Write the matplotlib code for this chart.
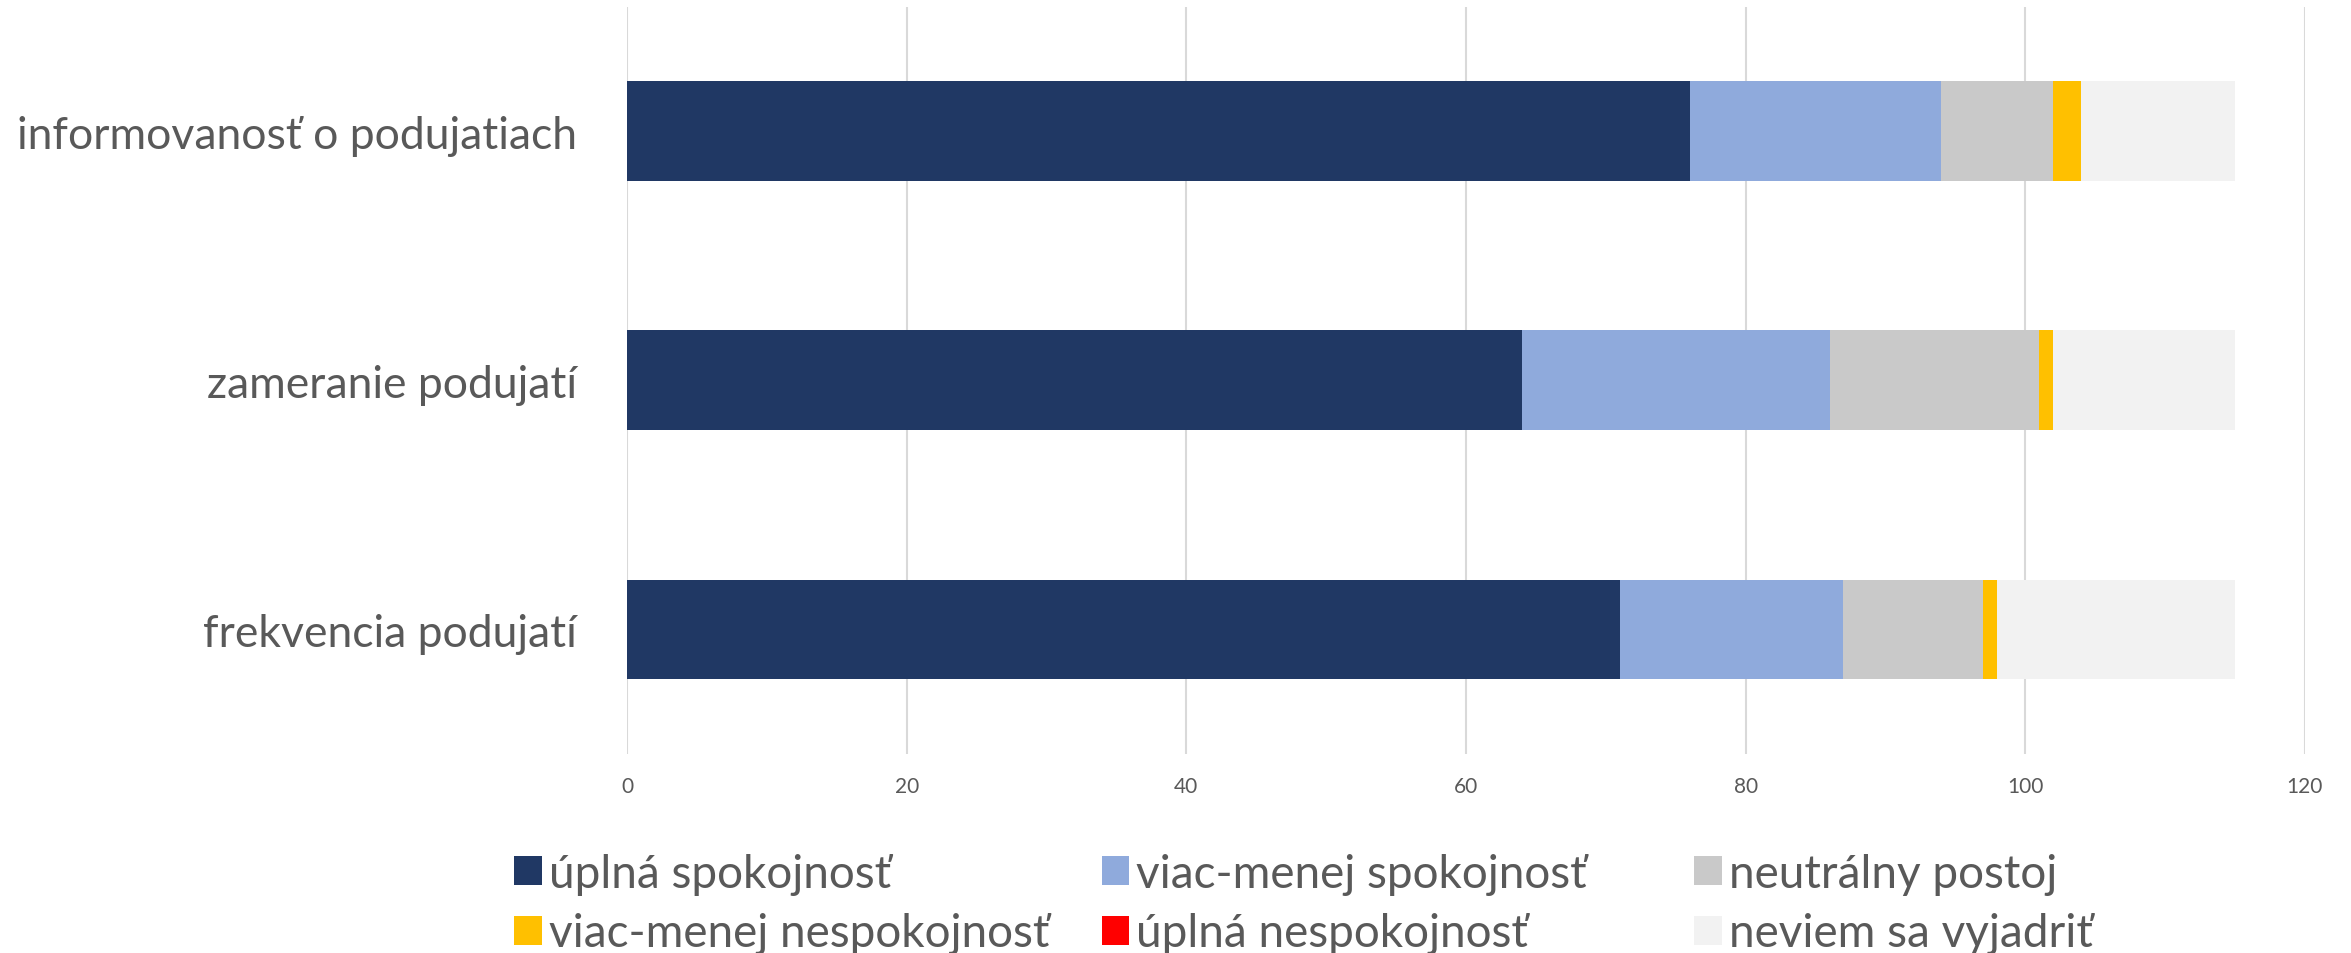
import matplotlib.pyplot as plt
from matplotlib.patches import Patch

# categories, bottom-to-top as drawn
categories = ['frekvencia podujatí', 'zameranie podujatí', 'informovanosť o podujatiach']
series_names = ['úplná spokojnosť', 'viac-menej spokojnosť', 'neutrálny postoj',
                'viac-menej nespokojnosť', 'úplná nespokojnosť', 'neviem sa vyjadriť']
uplna_spok = [71, 64, 76]
viac_spok = [16, 22, 18]
neutralny = [10, 15, 8]
viac_nespok = [1, 1, 2]
uplna_nespok = [0, 0, 0]
neviem = [17, 13, 11]
colors = ['#203864', '#8FAADC', '#C9C9C9', '#FFC000', '#FF0000', '#F2F2F2']
xticks = [0, 20, 40, 60, 80, 100, 120]

TXT = '#595959'
plt.rcParams['font.family'] = ['Lato', 'DejaVu Sans']

fig = plt.figure(figsize=(23.51, 9.54), dpi=100)
ax = fig.add_axes([0.2667, 0.2086, 0.9804 - 0.2667, 0.992 - 0.2086])

series = [uplna_spok, viac_spok, neutralny, viac_nespok, uplna_nespok, neviem]
y = list(range(len(categories)))
left = [0] * len(categories)
handles = []
for name, vals, c in zip(series_names, series, colors):
    ax.barh(y, vals, left=left, height=0.4, color=c, zorder=2)
    left = [l + v for l, v in zip(left, vals)]
    handles.append(Patch(facecolor=c, label=name))

ax.set_xlim(0, 120)
ax.set_ylim(-0.5, 2.5)
ax.set_xticks(xticks)
ax.set_yticks(y)
ax.set_yticklabels(categories, fontsize=32, color=TXT)
ax.tick_params(axis='y', length=0, pad=36)
ax.tick_params(axis='x', length=0, pad=16, labelsize=15, labelcolor=TXT)
ax.grid(axis='x', color='#D9D9D9', linewidth=1.5, zorder=0)
for s in ax.spines.values():
    s.set_visible(False)

# legend: three columns placed like the original (equal column widths)
col_x = [0.2187, 0.4687, 0.7206]
for k in range(3):
    lg = fig.legend(handles=[handles[k], handles[k + 3]], loc='upper left',
                    bbox_to_anchor=(col_x[k], 0.105), bbox_transform=fig.transFigure,
                    frameon=False, fontsize=33, labelcolor=TXT,
                    handlelength=0.6, handleheight=0.6, handletextpad=0.15,
                    labelspacing=0.38, borderpad=0, borderaxespad=0)

fig.savefig('out.png', dpi=100)
